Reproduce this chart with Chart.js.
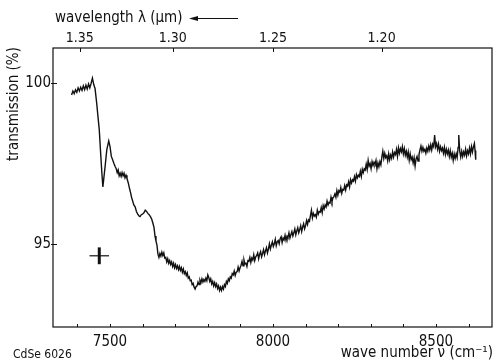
<!DOCTYPE html>
<html>
<head>
<meta charset="utf-8">
<script src="https://cdn.jsdelivr.net/npm/chart.js@4.4.1/dist/chart.umd.min.js"></script>
<style>
  html, body { margin: 0; padding: 0; background: #fff; }
  #wrap { width: 494px; height: 360px; }
</style>
</head>
<body>
<div id="wrap"><canvas id="chart" width="494" height="360"></canvas></div>
<script>
// wave number (cm-1) and transmission (%)
const waveNumber = [
  7382, 7386, 7390, 7394, 7398, 7402, 7406, 7410, 7414, 7418, 7422, 7426, 7430, 7434, 7438, 7442, 7446, 7450, 7454,
  7459, 7463, 7467, 7471, 7475, 7478, 7481, 7485, 7490, 7496, 7500, 7504, 7508, 7512, 7516,
  7519, 7522, 7525, 7528, 7531, 7534, 7537, 7540, 7543, 7546, 7549, 7552, 7556, 7560, 7563, 7566, 7569, 7573, 7577,
  7581, 7585, 7589, 7592, 7596, 7600, 7604, 7608, 7612, 7616, 7620, 7624, 7628, 7632, 7635, 7638, 7641, 7644, 7647,
  7650, 7653, 7656, 7659, 7662, 7665, 7668, 7671, 7674, 7677, 7680, 7683, 7686, 7689, 7692, 7695, 7698, 7701, 7704,
  7707, 7710, 7713, 7716, 7719, 7722, 7725, 7728, 7731, 7734, 7737, 7740, 7743, 7746, 7749, 7752, 7755, 7758, 7761,
  7764, 7767, 7770, 7773, 7776, 7779, 7782, 7785, 7788, 7791, 7794, 7797, 7800, 7803, 7806, 7809, 7812, 7815, 7818,
  7821, 7824, 7827, 7830, 7833, 7836, 7839, 7842, 7845, 7848, 7851, 7854, 7857, 7860, 7863, 7866, 7869, 7872, 7875,
  7878, 7881, 7884, 7887, 7890, 7893, 7896, 7899, 7902, 7905, 7908, 7911, 7914, 7917, 7920, 7923, 7926, 7929, 7932,
  7935, 7938, 7941, 7944, 7947, 7950, 7953, 7956, 7959, 7962, 7965, 7968, 7971, 7974, 7977, 7980, 7983, 7986, 7989,
  7992, 7995, 7998, 8001, 8004, 8007, 8010, 8013, 8016, 8019, 8022, 8025, 8028, 8031, 8034, 8037, 8040, 8043, 8046,
  8049, 8052, 8055, 8058, 8061, 8064, 8067, 8070, 8073, 8076, 8079, 8082, 8085, 8088, 8091, 8094, 8097, 8100, 8103,
  8106, 8109, 8112, 8115, 8118, 8121, 8124, 8127, 8130, 8133, 8136, 8139, 8142, 8145, 8148, 8151, 8154, 8157, 8160,
  8163, 8166, 8169, 8172, 8175, 8178, 8181, 8184, 8187, 8190, 8193, 8196, 8199, 8202, 8205, 8208, 8211, 8214, 8217,
  8220, 8223, 8226, 8229, 8232, 8235, 8238, 8241, 8244, 8247, 8250, 8253, 8256, 8259, 8262, 8265, 8268, 8271, 8274,
  8277, 8280, 8283, 8286, 8289, 8292, 8295, 8298, 8301, 8304, 8307, 8310, 8313, 8316, 8319, 8322, 8325, 8328, 8331,
  8334, 8337, 8340, 8343, 8346, 8349, 8352, 8355, 8358, 8361, 8364, 8367, 8370, 8373, 8376, 8379, 8382, 8385, 8388,
  8391, 8394, 8397, 8400, 8403, 8406, 8409, 8412, 8415, 8418, 8421, 8424, 8427, 8430, 8433, 8436, 8439, 8442, 8445,
  8448, 8451, 8454, 8457, 8460, 8463, 8466, 8469, 8472, 8475, 8478, 8481, 8484, 8487, 8490, 8493, 8496, 8499, 8502,
  8505, 8508, 8511, 8514, 8517, 8520, 8523, 8526, 8529, 8532, 8535, 8538, 8541, 8544, 8547, 8550, 8553, 8556, 8559,
  8562, 8565, 8568, 8570, 8573, 8576, 8579, 8582, 8585, 8588, 8591, 8594, 8597, 8600, 8603, 8606, 8609, 8612, 8615,
  8618, 8620, 8622
];
const transmission = [
  99.62, 99.74, 99.66, 99.78, 99.70, 99.84, 99.74, 99.86, 99.76, 99.90, 99.78, 99.92, 99.80, 99.96, 99.84, 99.98, 100.14, 99.94, 99.82,
  99.37, 98.95, 98.54, 97.85, 97.20, 96.78, 97.05, 97.42, 97.92, 98.20, 98.02, 97.72, 97.62, 97.50, 97.40,
  97.34, 97.22, 97.30, 97.12, 97.20, 97.10, 97.22, 97.12, 97.20, 97.06, 97.14, 97.04, 96.90, 96.72, 96.60, 96.46, 96.36, 96.22, 96.16,
  96.02, 95.94, 95.88, 95.86, 95.92, 95.94, 95.98, 96.06, 96.02, 95.96, 95.92, 95.86, 95.78, 95.64, 95.52, 95.26, 95.10, 94.98, 94.70,
  94.60, 94.72, 94.64, 94.76, 94.66, 94.74, 94.58, 94.60, 94.46, 94.56, 94.42, 94.50, 94.38, 94.46, 94.32, 94.42, 94.28, 94.38, 94.26,
  94.34, 94.22, 94.32, 94.20, 94.28, 94.14, 94.24, 94.10, 94.16, 94.04, 94.12, 93.96, 94.00, 93.88, 93.90, 93.76, 93.80, 93.68, 93.62,
  93.70, 93.72, 93.84, 93.76, 93.90, 93.82, 93.94, 93.84, 93.92, 93.86, 93.96, 93.88, 94.06, 93.98, 93.86, 93.94, 93.78, 93.86, 93.72,
  93.82, 93.70, 93.78, 93.64, 93.72, 93.58, 93.68, 93.58, 93.70, 93.62, 93.76, 93.70, 93.86, 93.80, 93.94, 93.88, 94.00, 93.96, 94.10,
  94.06, 94.18, 94.04, 94.14, 94.16, 94.30, 94.18, 94.28, 94.36, 94.48, 94.34, 94.52, 94.40, 94.42, 94.32, 94.50, 94.48, 94.60, 94.44,
  94.58, 94.52, 94.68, 94.50, 94.62, 94.66, 94.74, 94.56, 94.70, 94.78, 94.62, 94.72, 94.84, 94.68, 94.80, 94.90, 94.74, 94.86, 95.02,
  94.86, 94.98, 95.08, 94.94, 95.02, 95.16, 94.96, 95.08, 95.12, 95.02, 95.18, 95.24, 95.06, 95.20, 95.14, 95.28, 95.12, 95.26, 95.22,
  95.36, 95.20, 95.30, 95.40, 95.26, 95.36, 95.48, 95.30, 95.42, 95.52, 95.36, 95.46, 95.58, 95.40, 95.54, 95.64, 95.48, 95.58, 95.74,
  95.62, 95.76, 95.72, 95.90, 96.06, 95.82, 95.96, 95.88, 95.92, 95.84, 96.06, 95.94, 96.02, 96.00, 96.14, 95.98, 96.20, 96.10, 96.22,
  96.16, 96.34, 96.22, 96.30, 96.28, 96.46, 96.32, 96.44, 96.48, 96.56, 96.46, 96.66, 96.52, 96.66, 96.62, 96.76, 96.58, 96.70, 96.68,
  96.82, 96.68, 96.84, 96.80, 96.94, 96.78, 97.00, 96.90, 97.00, 96.96, 97.10, 96.96, 97.16, 97.06, 97.14, 97.10, 97.26, 97.10, 97.32,
  97.22, 97.34, 97.30, 97.48, 97.32, 97.60, 97.42, 97.50, 97.34, 97.56, 97.44, 97.54, 97.48, 97.60, 97.34, 97.52, 97.40, 97.56, 97.46,
  97.70, 97.88, 97.66, 97.82, 97.68, 97.74, 97.58, 97.80, 97.62, 97.76, 97.66, 97.86, 97.70, 97.84, 97.78, 97.94, 97.72, 97.98, 97.82,
  97.96, 97.86, 98.02, 97.80, 97.96, 97.76, 97.88, 97.70, 97.86, 97.60, 97.80, 97.62, 97.70, 97.52, 97.68, 97.42, 97.64, 97.72, 97.58,
  97.78, 97.92, 98.04, 97.88, 98.00, 97.88, 97.94, 97.82, 97.98, 97.88, 98.04, 97.92, 98.08, 97.92, 98.10, 98.02, 98.38, 98.02, 98.12,
  97.94, 98.10, 97.88, 98.02, 97.90, 97.98, 97.82, 98.00, 97.78, 97.94, 97.80, 97.92, 97.72, 97.90, 97.70, 97.82, 97.60, 97.80, 97.66,
  97.80, 97.68, 98.00, 98.38, 97.88, 97.70, 97.88, 97.72, 97.86, 97.76, 97.94, 97.74, 97.90, 97.80, 97.98, 97.80, 98.02, 97.86, 98.02,
  98.12, 97.90, 97.62
];

// axis ticks
const waveNumberTicks = [7500, 8000, 8500];
const waveNumberMinor = [7400, 7500, 7600, 7700, 7800, 7900, 8000, 8100, 8200, 8300, 8400, 8500, 8600];
const wavelengthTicks = [1.35, 1.30, 1.25, 1.20];
const transmissionTicks = [95, 100];

// resolution / error marker: centre and half widths
const errorMark = { x: 7467, y: 94.65, dx: 30, dy: 0.26 };

const FONT = '"DejaVu Sans Condensed", "DejaVu Sans", sans-serif';
const INK = '#111';

const points = waveNumber.map((w, i) => ({ x: w, y: transmission[i] }));

const framePlugin = {
  id: 'frame',
  afterDraw(chart) {
    const { ctx, chartArea: a, scales } = chart;
    ctx.save();
    ctx.strokeStyle = INK;
    ctx.lineWidth = 1.2;
    ctx.strokeRect(a.left, a.top, a.right - a.left, a.bottom - a.top);

    ctx.lineWidth = 1;
    ctx.beginPath();
    // bottom minor ticks, pointing in
    waveNumberMinor.forEach(v => {
      const x = Math.round(scales.x.getPixelForValue(v)) + 0.5;
      ctx.moveTo(x, a.bottom);
      ctx.lineTo(x, a.bottom - 3);
    });
    // top wavelength ticks
    wavelengthTicks.forEach(l => {
      const x = Math.round(scales.x2.getPixelForValue(10000 / l)) + 0.5;
      ctx.moveTo(x, a.top);
      ctx.lineTo(x, a.top + 4);
    });
    // y ticks cross the axis
    transmissionTicks.forEach(v => {
      const y = Math.round(scales.y.getPixelForValue(v)) + 0.5;
      ctx.moveTo(a.left - 2, y);
      ctx.lineTo(a.left + 4, y);
    });
    ctx.stroke();

    // axis titles
    ctx.fillStyle = INK;
    ctx.font = '15px ' + FONT;
    ctx.textBaseline = 'middle';
    ctx.textAlign = 'left';
    ctx.fillText('wavelength λ (µm)', 55, 18);
    // arrow pointing to larger wavelength
    ctx.beginPath();
    ctx.moveTo(196, 18.5);
    ctx.lineTo(238, 18.5);
    ctx.stroke();
    ctx.beginPath();
    ctx.moveTo(189, 18.5);
    ctx.lineTo(198, 16);
    ctx.lineTo(198, 21);
    ctx.closePath();
    ctx.fill();

    ctx.textAlign = 'right';
    ctx.fillText('wave number ν\u0304 (cm⁻¹)', 493, 353);

    ctx.font = '12px ' + FONT;
    ctx.textAlign = 'left';
    ctx.fillText('CdSe 6026', 13, 355);

    ctx.font = '15px ' + FONT;
    ctx.translate(14, 104);
    ctx.rotate(-Math.PI / 2);
    ctx.textAlign = 'center';
    ctx.fillText('transmission (%)', 0, 0);
    ctx.restore();
  }
};

new Chart(document.getElementById('chart'), {
  type: 'line',
  data: {
    datasets: [
      {
        data: points,
        borderColor: INK,
        borderWidth: 1.4,
        pointRadius: 0,
        tension: 0
      },
      {
        data: [
          { x: errorMark.x - errorMark.dx, y: errorMark.y },
          { x: errorMark.x + errorMark.dx, y: errorMark.y }
        ],
        borderColor: INK,
        borderWidth: 1.2,
        pointRadius: 0
      },
      {
        data: [
          { x: errorMark.x, y: errorMark.y - errorMark.dy },
          { x: errorMark.x, y: errorMark.y + errorMark.dy }
        ],
        borderColor: INK,
        borderWidth: 3,
        pointRadius: 0
      }
    ]
  },
  options: {
    responsive: false,
    animation: false,
    devicePixelRatio: 1,
    layout: { padding: { right: 2, left: 0, top: 0, bottom: 0 } },
    plugins: { legend: { display: false }, tooltip: { enabled: false } },
    scales: {
      x: {
        type: 'linear',
        position: 'bottom',
        min: 7325,
        max: 8672,
        afterBuildTicks: s => { s.ticks = waveNumberTicks.map(v => ({ value: v })); },
        afterFit: s => { s.height = 33; },
        grid: { display: false, drawTicks: false },
        border: { display: false },
        ticks: { color: INK, font: { size: 15, family: FONT }, padding: 6, maxRotation: 0, callback: v => String(v) }
      },
      x2: {
        type: 'linear',
        position: 'top',
        min: 7325,
        max: 8672,
        afterBuildTicks: s => { s.ticks = wavelengthTicks.map(l => ({ value: 10000 / l })); },
        afterFit: s => { s.height = 48; },
        grid: { display: false, drawTicks: false },
        border: { display: false },
        ticks: {
          color: INK,
          font: { size: 14, family: FONT },
          padding: 1,
          maxRotation: 0,
          callback: v => (10000 / v).toFixed(2)
        }
      },
      y: {
        type: 'linear',
        min: 92.45,
        max: 101.07,
        afterBuildTicks: s => { s.ticks = transmissionTicks.map(v => ({ value: v })); },
        afterFit: s => { s.width = 53; },
        grid: { display: false, drawTicks: false },
        border: { display: false },
        ticks: { color: INK, font: { size: 15, family: FONT }, padding: 2, callback: v => String(v) }
      }
    }
  },
  plugins: [framePlugin]
});
</script>
</body>
</html>
